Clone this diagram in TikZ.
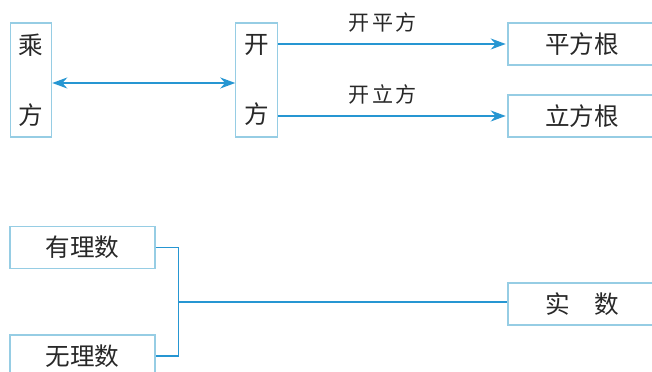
\documentclass[tikz,border=0pt]{standalone}
\usepackage{fontspec}
\setmainfont{Noto Sans CJK SC}
\usepackage{xcolor}
\usepackage{tikz}
\usetikzlibrary{arrows.meta,positioning,calc}
\definecolor{clrLine}{RGB}{38,150,210}
\definecolor{clrBox}{RGB}{150,205,228}
\definecolor{clrTxt}{RGB}{40,40,40}
\tikzset{
  hbox/.style={rectangle,draw=clrBox,line width=0.6pt,text=clrTxt,
    font=\fontsize{14}{17}\selectfont,minimum height=8.4mm,inner sep=0pt},
  vbox/.style={rectangle,draw=clrBox,line width=0.6pt,text=clrTxt,
    font=\fontsize{14}{40}\selectfont,align=center,minimum width=8.3mm,
    minimum height=22.8mm,inner sep=0pt},
  link/.style={draw=clrLine,line width=1pt},
  arrow/.style={link,-{Stealth[length=3mm,width=2.2mm]}},
  biarrow/.style={link,{Stealth[length=3mm,width=2.2mm]}-{Stealth[length=3mm,width=2.2mm]}},
  tag/.style={font=\fontsize{12}{14}\selectfont,text=clrTxt,inner sep=2pt}
}
\begin{document}
\begin{tikzpicture}[x=0.2mm,y=-0.2mm]
  \useasboundingbox (0,0) rectangle (652,372);
  \clip (0,0) rectangle (652,372);
  % upper part
  \node[vbox] (cheng) at (31,80) {乘\\方};
  \node[vbox] (kai) at (256.5,80) {开\\方};
  \node[hbox,minimum width=29.6mm] (pfg) at (582,44) {平方根};
  \node[hbox,minimum width=29.6mm] (lfg) at (582,116) {立方根};
  \draw[biarrow] ([yshift=-0.6mm]cheng.east) -- ([yshift=-0.6mm]kai.west);
  \draw[arrow] (kai.east |- pfg.west) -- ([xshift=-1pt]pfg.west)
    node[tag,above=4pt,pos=0.46] {开\hspace{1.5pt}平\hspace{1.5pt}方};
  \draw[arrow] (kai.east |- lfg.west) -- ([xshift=-1pt]lfg.west)
    node[tag,above=4pt,pos=0.46] {开\hspace{1.5pt}立\hspace{1.5pt}方};
  % lower part
  \node[hbox,minimum width=29mm] (you) at (82.5,247.5) {有理数};
  \node[hbox,minimum width=29mm] (wu) at (82.5,356) {无理数};
  \node[hbox,minimum width=29.6mm] (shi) at (582,304) {实\quad 数};
  \coordinate (fork) at ($(you.east)!0.5!(wu.east)+(23,0)$);
  \draw[link] (you.east) -| (fork) |- (wu.east);
  \draw[link] (fork) -- (fork -| shi.west);
\end{tikzpicture}
\end{document}
